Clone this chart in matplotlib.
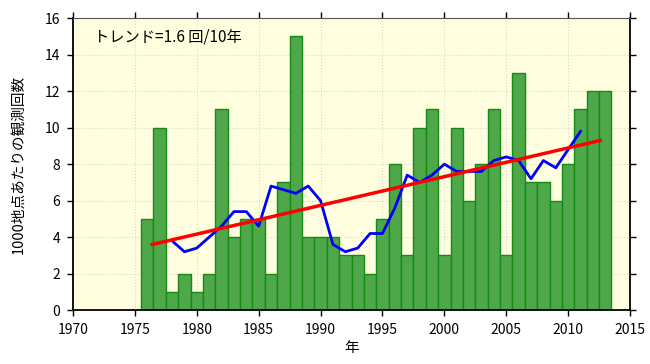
import numpy as np
import matplotlib
matplotlib.use("Agg")
import matplotlib.pyplot as plt

plt.rcParams['font.family'] = ['Noto Sans CJK JP', 'DejaVu Sans']

years = list(range(1976, 2014))
counts = [5, 10, 1, 2, 1, 2, 11, 4, 5, 5, 2, 7, 15, 4, 4, 4, 3, 3, 2, 5,
          8, 3, 10, 11, 3, 10, 6, 8, 11, 3, 13, 7, 7, 6, 8, 11, 12, 12]

# 5-year running mean (blue line)
mean_years = list(range(1978, 2012))
mean_vals = [3.8, 3.2, 3.4, 4.0, 4.6, 5.4, 5.4, 4.6, 6.8, 6.6, 6.4, 6.8, 6.0,
             3.6, 3.2, 3.4, 4.2, 4.2, 5.6, 7.4, 7.0, 7.4, 8.0, 7.6, 7.6, 7.6,
             8.2, 8.4, 8.2, 7.2, 8.2, 7.8, 8.8, 9.8]

# trend line (red)
trend_x = [1976.4, 2012.6]
trend_y = [3.6, 9.3]

trend_text = "トレンド=1.6 回/10年"
xlabel = "年"
ylabel = "1000地点あたりの観測回数"

fig = plt.figure(figsize=(6.5, 3.64), dpi=100)
ax = fig.add_axes([0.1123, 0.148, 0.857, 0.802])
ax.set_facecolor("#ffffe0")

ax.bar(years, counts, width=1.0, color="#4ea84a", edgecolor="#138a13", linewidth=1.0, zorder=2)
ax.plot(mean_years, mean_vals, color="#0000ff", lw=2, zorder=3)
ax.plot(trend_x, trend_y, color="#ff0000", lw=2.5, zorder=4)

ax.set_xlim(1970, 2015)
ax.set_ylim(0, 16)
ax.set_xticks(range(1970, 2016, 5))
ax.set_yticks(range(0, 17, 2))
ax.grid(True, color="#d8d8c8", linestyle=":", linewidth=0.8, zorder=0)
ax.set_axisbelow(True)

ax.tick_params(direction="out", length=4, width=1, labelsize=10, pad=5,
               top=True, right=True, labeltop=False, labelright=False)
for s in ["left", "bottom", "right"]:
    ax.spines[s].set_linewidth(1.3)
    ax.spines[s].set_color("black")
ax.spines["top"].set_color("#555555")

ax.text(0.037, 0.965, trend_text, transform=ax.transAxes, fontsize=11,
        va="top", ha="left")
ax.set_xlabel(xlabel, fontsize=10.5, labelpad=3)
ax.set_ylabel(ylabel, fontsize=10.5, labelpad=14)

fig.savefig("out.png", dpi=100)
plt.close(fig)
